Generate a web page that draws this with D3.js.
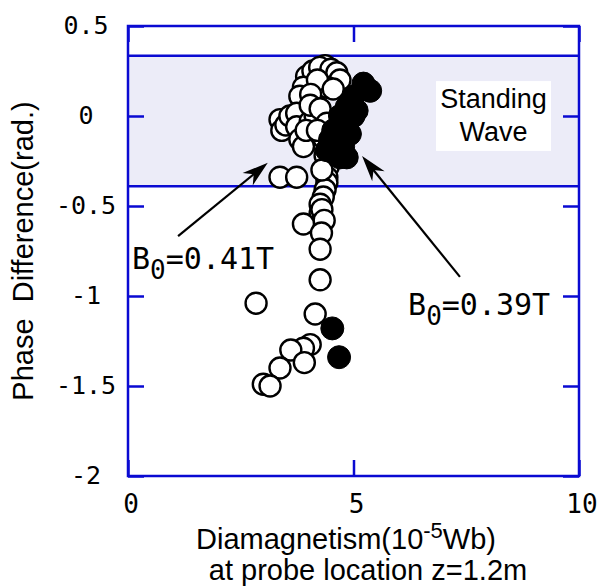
<!DOCTYPE html>
<html>
<head>
<meta charset="utf-8">
<script src="https://cdn.jsdelivr.net/npm/d3@7"></script>
<style>
  html, body { margin: 0; padding: 0; background: #ffffff; }
  svg { display: block; }
</style>
</head>
<body>
<svg id="chart" width="606" height="586"></svg>
<script>
// ---------- data ----------
const xTickValues = [0, 5, 10];
const xTickLabels = ["0", "5", "10"];
const yTickValues = [0.5, 0, -0.5, -1, -1.5, -2];
const yTickLabels = ["0.5", "0", "-0.5", "-1", "-1.5", "-2"];
const yMinorTicks = [0.5, 0, -0.5, -1, -1.5, -2];

// B0 = 0.41T (open circles)
const openX = [3.96, 4.10, 4.37, 4.25, 4.50, 4.63, 4.70, 4.41, 3.89, 3.81, 4.20, 4.55, 4.05,
  3.37, 3.41, 3.50, 3.59, 3.74, 3.74, 3.81, 4.04, 4.07, 4.15, 4.04, 4.26, 4.41, 4.33, 3.89, 3.95, 4.20,
  3.37, 3.74, 4.44, 4.41, 4.37, 4.41, 4.37, 4.30, 4.33, 4.26, 4.26, 4.30, 4.26, 4.35, 3.89, 4.29,
  4.26, 4.26, 4.15, 2.84, 4.04, 3.89, 3.61, 3.91, 3.37, 3.00, 3.15];
const openY = [0.22, 0.25, 0.28, 0.27, 0.26, 0.24, 0.20, 0.16, 0.16, 0.11, 0.20, 0.15, 0.12,
  -0.02, -0.08, -0.05, 0.00, 0.015, -0.06, -0.13, -0.03, -0.13, 0.00, 0.06, 0.04, -0.04, -0.12, -0.17, -0.08, -0.08,
  -0.34, -0.34, -0.28, -0.34, -0.22, -0.37, -0.41, -0.30, -0.45, -0.49, -0.54, -0.52, -0.60, -0.58, -0.60, -0.65,
  -0.74, -0.91, -1.10, -1.04, -1.27, -1.29, -1.30, -1.37, -1.40, -1.49, -1.50];

// B0 = 0.39T (filled circles)
const filledX = [5.37, 5.22, 5.00, 4.85, 4.70, 4.77, 4.55, 4.92, 4.48, 4.77, 4.55, 4.85, 4.70, 4.41, 5.00, 5.07, 4.53, 4.68];
const filledY = [0.14, 0.18, 0.11, 0.05, 0.00, -0.06, -0.08, -0.10, -0.13, -0.17, -0.19, -0.23, -0.23, -0.19, 0.00, 0.03, -1.18, -1.34];

// standing wave band (phase range)
const bandRange = [0.335, -0.39];

// annotations (data coordinates)
const arrows = [
  { x1: 1.11, y1: -0.667, x2: 3.10, y2: -0.26 },
  { x1: 7.36, y1: -0.894, x2: 5.19, y2: -0.222 }
];
const labels = [
  { x: 0.09, y: -0.85, main: "B", sub: "0", rest: "=0.41T" },
  { x: 6.21, y: -1.105, main: "B", sub: "0", rest: "=0.39T" }
];
const bandText = ["Standing", "Wave"];
const bandBox = { x0: 6.83, x1: 9.38, y0: 0.194, y1: -0.194 };

// ---------- layout ----------
const svg = d3.select("#chart");
const L = 128, R = 579, T = 26, B = 476;
const blue = "#0a0ad2";
const x = d3.scaleLinear().domain([0, 10]).range([L, R]);
const y = d3.scaleLinear().domain([-2, 0.5]).range([B, T]);

// band
svg.append("rect")
  .attr("x", x(0)).attr("width", x(10) - x(0))
  .attr("y", y(bandRange[0])).attr("height", y(bandRange[1]) - y(bandRange[0]))
  .attr("fill", "#ececf8");

// standing wave white box
svg.append("rect")
  .attr("x", x(bandBox.x0)).attr("width", x(bandBox.x1) - x(bandBox.x0))
  .attr("y", y(bandBox.y0)).attr("height", y(bandBox.y1) - y(bandBox.y0))
  .attr("fill", "#ffffff");
const bx = (x(bandBox.x0) + x(bandBox.x1)) / 2;
svg.append("text").attr("x", bx).attr("y", 108)
  .attr("text-anchor", "middle")
  .style("font-family", "Liberation Sans, Arial, sans-serif").style("font-size", "27px")
  .text(bandText[0]);
svg.append("text").attr("x", bx).attr("y", 141)
  .attr("text-anchor", "middle")
  .style("font-family", "Liberation Sans, Arial, sans-serif").style("font-size", "27px")
  .text(bandText[1]);

// axes (ticks inward)
function styleAxis(g) {
  g.selectAll("path").remove();
  g.selectAll("line").attr("stroke", blue).attr("stroke-width", 2.5);
  g.selectAll("text").remove();
}
svg.append("g").attr("transform", `translate(${L},0)`)
  .call(d3.axisLeft(y).tickValues(yMinorTicks).tickSize(-16)).call(styleAxis);
svg.append("g").attr("transform", `translate(${R},0)`)
  .call(d3.axisRight(y).tickValues(yMinorTicks).tickSize(-16)).call(styleAxis);
svg.append("g").attr("transform", `translate(0,${B})`)
  .call(d3.axisBottom(x).tickValues(xTickValues).tickSize(-16)).call(styleAxis);
svg.append("g").attr("transform", `translate(0,${T})`)
  .call(d3.axisTop(x).tickValues(xTickValues).tickSize(-16)).call(styleAxis);

// band border lines
bandRange.forEach(v => {
  svg.append("line").attr("x1", L).attr("x2", R).attr("y1", y(v)).attr("y2", y(v))
    .attr("stroke", blue).attr("stroke-width", 2.5);
});

// frame
svg.append("rect").attr("x", L).attr("y", T).attr("width", R - L).attr("height", B - T)
  .attr("fill", "none").attr("stroke", blue).attr("stroke-width", 2.5);

// tick labels
const mono = "DejaVu Sans Mono, monospace";
svg.append("g").selectAll("text").data(yTickValues).join("text")
  .attr("x", 86).attr("y", d => y(d)).attr("dy", "0.3em")
  .attr("text-anchor", "middle")
  .style("font-family", mono).style("font-size", "25px")
  .text((d, i) => yTickLabels[i]);
svg.append("g").selectAll("text").data(xTickValues).join("text")
  .attr("x", d => x(d) + 3).attr("y", 513)
  .attr("text-anchor", "middle")
  .style("font-family", mono).style("font-size", "26px")
  .text((d, i) => xTickLabels[i]);

// points
const r = 10.5;
svg.append("g").selectAll("circle").data(openX.map((v, i) => [v, openY[i]])).join("circle")
  .attr("cx", d => x(d[0])).attr("cy", d => y(d[1])).attr("r", r)
  .attr("fill", "#ffffff").attr("stroke", "#000").attr("stroke-width", 2.4);
svg.append("g").selectAll("circle").data(filledX.map((v, i) => [v, filledY[i]])).join("circle")
  .attr("cx", d => x(d[0])).attr("cy", d => y(d[1])).attr("r", r + 1)
  .attr("fill", "#000").attr("stroke", "#000").attr("stroke-width", 1);

// arrows
arrows.forEach(a => {
  const X1 = x(a.x1), Y1 = y(a.y1), X2 = x(a.x2), Y2 = y(a.y2);
  const ang = Math.atan2(Y2 - Y1, X2 - X1);
  const len = 26, w = 8;
  svg.append("line").attr("x1", X1).attr("y1", Y1)
    .attr("x2", X2 - Math.cos(ang) * 10).attr("y2", Y2 - Math.sin(ang) * 10)
    .attr("stroke", "#000").attr("stroke-width", 2.2);
  const bx0 = X2 - Math.cos(ang) * len, by0 = Y2 - Math.sin(ang) * len;
  const nx = -Math.sin(ang), ny = Math.cos(ang);
  const mx = X2 - Math.cos(ang) * len * 0.7, my = Y2 - Math.sin(ang) * len * 0.7;
  svg.append("path")
    .attr("d", `M${X2},${Y2} L${bx0 + nx * w},${by0 + ny * w} L${mx},${my} L${bx0 - nx * w},${by0 - ny * w} Z`)
    .attr("fill", "#000");
});

// B0 labels
labels.forEach(l => {
  const t = svg.append("text").attr("x", x(l.x)).attr("y", y(l.y))
    .style("font-family", mono).style("font-size", "30px");
  t.append("tspan").text(l.main);
  t.append("tspan").attr("dy", 10).style("font-size", "26px").text(l.sub);
  t.append("tspan").attr("dy", -10).text(l.rest);
});

// axis titles
const sans = "Liberation Sans, Arial, sans-serif";
const xt = svg.append("text").attr("x", 346).attr("y", 549).attr("text-anchor", "middle")
  .style("font-family", sans).style("font-size", "29px");
xt.append("tspan").text("Diamagnetism(10");
xt.append("tspan").attr("dy", -11).style("font-size", "22px").text("-5");
xt.append("tspan").attr("dy", 11).text("Wb)");
svg.append("text").attr("x", 368).attr("y", 580).attr("text-anchor", "middle")
  .style("font-family", sans).style("font-size", "29px")
  .text("at probe location z=1.2m");
svg.append("text")
  .attr("transform", "translate(33,251) rotate(-90)")
  .attr("text-anchor", "middle")
  .style("font-family", sans).style("font-size", "29px")
  .style("white-space", "pre")
  .text("Phase  Difference(rad.)");
</script>
</body>
</html>
